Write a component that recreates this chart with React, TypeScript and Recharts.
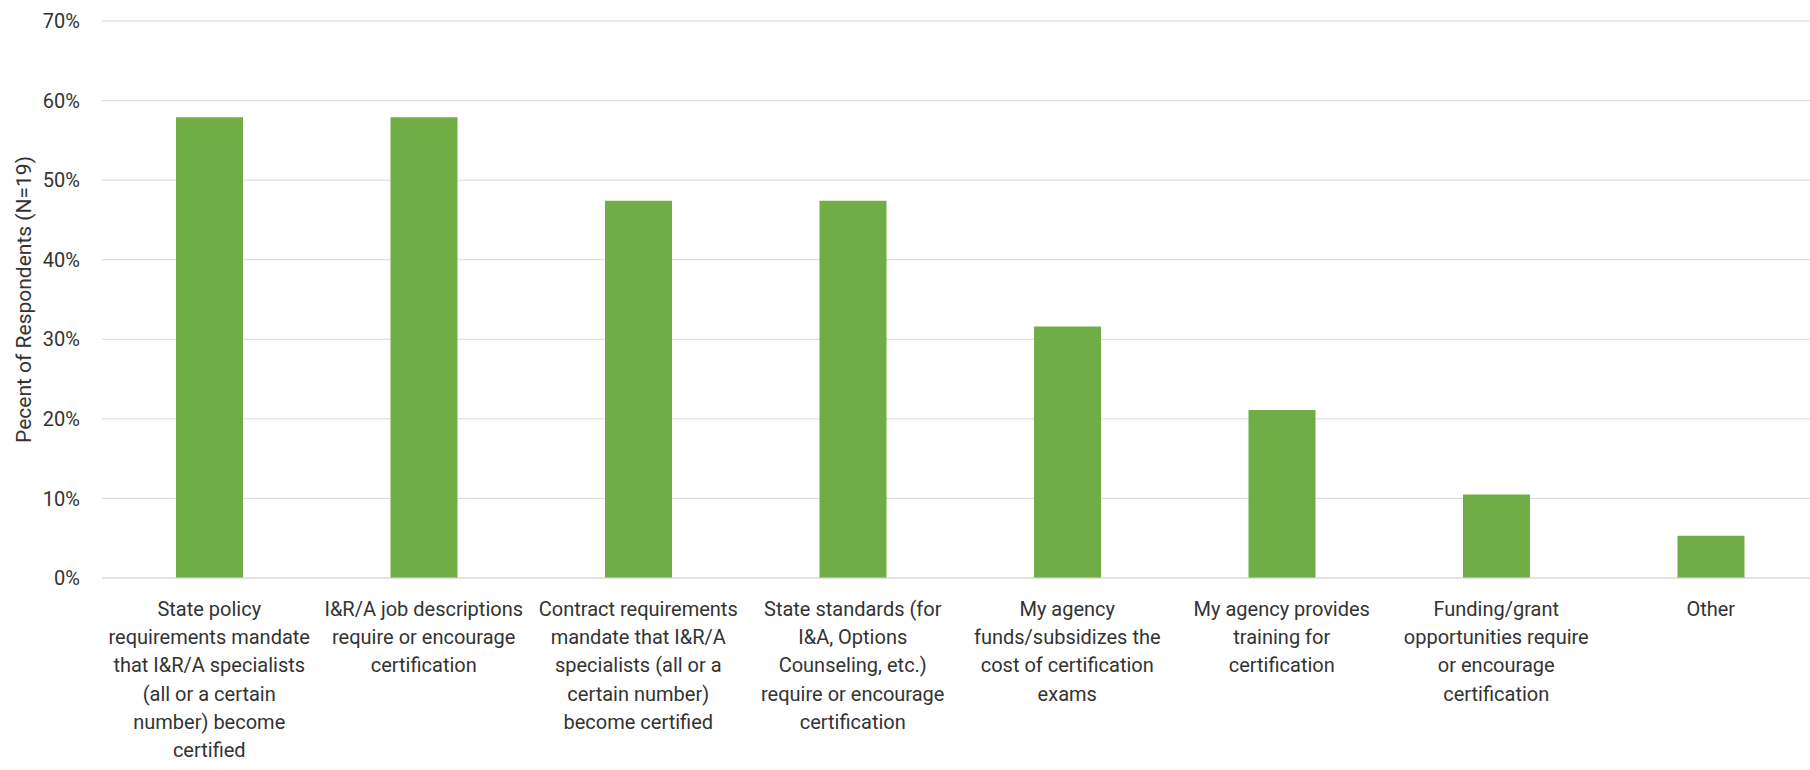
import { BarChart, Bar, XAxis, YAxis, CartesianGrid } from 'recharts'

const categories = [
  'State policy requirements mandate that I&R/A specialists (all or a certain number) become certified',
  'I&R/A job descriptions require or encourage certification',
  'Contract requirements mandate that I&R/A specialists (all or a certain number) become certified',
  'State standards (for I&A, Options Counseling, etc.) require or encourage certification',
  'My agency funds/subsidizes the cost of certification exams',
  'My agency provides training for certification',
  'Funding/grant opportunities require or encourage certification',
  'Other',
]

// wrapped the same way as the source chart
const tickLines = [
  ['State policy', 'requirements mandate', 'that I&R/A specialists', '(all or a certain', 'number) become', 'certified'],
  ['I&R/A job descriptions', 'require or encourage', 'certification'],
  ['Contract requirements', 'mandate that I&R/A', 'specialists (all or a', 'certain number)', 'become certified'],
  ['State standards (for', 'I&A, Options', 'Counseling, etc.)', 'require or encourage', 'certification'],
  ['My agency', 'funds/subsidizes the', 'cost of certification', 'exams'],
  ['My agency provides', 'training for', 'certification'],
  ['Funding/grant', 'opportunities require', 'or encourage', 'certification'],
  ['Other'],
]

const percents = [0.579, 0.579, 0.474, 0.474, 0.316, 0.211, 0.105, 0.053]

const yTicks = [0, 0.1, 0.2, 0.3, 0.4, 0.5, 0.6, 0.7]

const data = categories.map((name, i) => ({ name, value: percents[i] }))

const FONT = 'Roboto, "Noto Sans", sans-serif'
const TEXT = '#333333'

function CategoryTick(props: any) {
  const { x, y, payload } = props
  const lines = tickLines[payload.index] ?? [payload.value]
  return (
    <text x={x} y={y + 30} textAnchor="middle" fill={TEXT} fontSize={20} fontFamily={FONT}>
      {lines.map((line, i) => (
        <tspan key={i} x={x} dy={i === 0 ? 0 : 28.2}>
          {line}
        </tspan>
      ))}
    </text>
  )
}

function AxisTitle(props: any) {
  const { viewBox } = props
  const cx = 24
  const cy = viewBox.y + viewBox.height / 2
  return (
    <text
      x={cx}
      y={cy}
      transform={`rotate(-90, ${cx}, ${cy})`}
      textAnchor="middle"
      dominantBaseline="central"
      fill={TEXT}
      fontSize={21}
      fontFamily={FONT}
    >
      Pecent of Respondents (N=19)
    </text>
  )
}

export default function App() {
  return (
    <div style={{ position: 'absolute', left: 0, top: 0, width: 1810, height: 770, overflow: 'hidden', background: '#fff' }}>
      <BarChart width={1818} height={770} data={data} margin={{ top: 21, right: 0, bottom: 0, left: 0 }}>
        <CartesianGrid vertical={false} stroke="#d9d9d9" />
        <XAxis
          dataKey="name"
          height={192}
          interval={0}
          tickLine={false}
          axisLine={{ stroke: '#d9d9d9' }}
          tick={<CategoryTick />}
        />
        <YAxis
          width={102}
          domain={[0, 0.7]}
          ticks={yTicks}
          tickFormatter={(v: number) => `${Math.round(v * 100)}%`}
          axisLine={false}
          tickLine={false}
          tickMargin={16}
          tick={{ fill: TEXT, fontSize: 20, fontFamily: FONT }}
          label={{ content: <AxisTitle /> }}
        />
        <Bar dataKey="value" fill="#70ad47" barSize={67} isAnimationActive={false} />
      </BarChart>
    </div>
  )
}
